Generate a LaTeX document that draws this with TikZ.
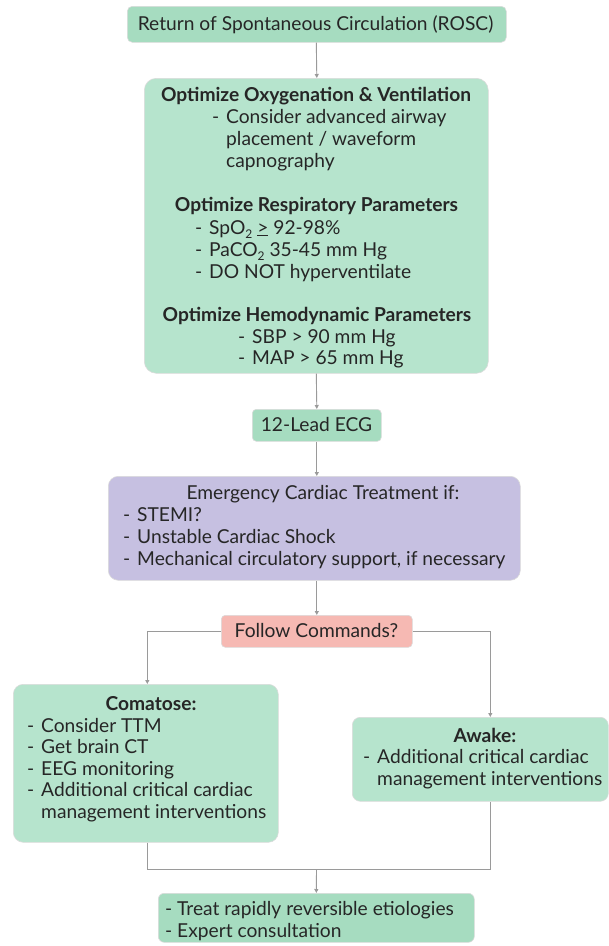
\documentclass[tikz,border=0pt]{standalone}
\usepackage{fontspec}
\setmainfont{Lato}
\usetikzlibrary{arrows.meta,calc}
\definecolor{mintA}{HTML}{A6DCC0}
\definecolor{mintB}{HTML}{B6E4CD}
\definecolor{lilac}{HTML}{C6C0E1}
\definecolor{salmon}{HTML}{F6B9B3}
\definecolor{ink}{HTML}{262626}
\definecolor{wire}{HTML}{9A9A9A}
\newcommand{\bul}{\makebox[14pt][l]{-}}
\begin{document}
\begin{tikzpicture}[x=1pt,y=-1pt,
  box/.style={draw=black!14, line width=0.6pt, inner sep=0pt, anchor=north west},
  txt/.style={inner sep=0pt, text=ink, font=\fontsize{19.2}{22}\selectfont},
  hd/.style={txt, font=\fontsize{19.2}{22}\selectfont\bfseries},
  wire/.style={draw=wire, line width=0.9pt},
  arr/.style={wire, -{Triangle[length=4pt,width=4pt]}}]
\useasboundingbox (0,0) rectangle (609,946);

% boxes
\node[box, fill=mintA, rounded corners=5pt, minimum width=379, minimum height=36] (rosc) at (127,6) {};
\node[box, fill=mintB, rounded corners=12pt, minimum width=344, minimum height=295] (opt) at (144,78) {};
\node[box, fill=mintA, rounded corners=4pt, minimum width=129, minimum height=32] (ecg) at (252,409) {};
\node[box, fill=lilac, rounded corners=10pt, minimum width=412, minimum height=104] (emerg) at (108,476) {};
\node[box, fill=salmon, rounded corners=4pt, minimum width=191, minimum height=32] (follow) at (221,615) {};
\node[box, fill=mintB, rounded corners=10pt, minimum width=265, minimum height=158] (coma) at (13,684) {};
\node[box, fill=mintB, rounded corners=8pt, minimum width=256, minimum height=84] (awake) at (352,717) {};
\node[box, fill=mintA, rounded corners=6pt, minimum width=316, minimum height=49] (treat) at (158,893) {};

% single-line labels
\node[txt, anchor=base] (roscT) at (315.5,30.5) {Return of Spontaneous Circulation (ROSC)};
\node[txt, anchor=base] (ecgT) at (316.5,431.5) {12-Lead ECG};
\node[txt, anchor=base] (followT) at (316.5,637.5) {Follow Commands?};

% optimisation box
\node[hd, anchor=base] (h1) at (316,101.5) {Optimize Oxygenation \& Ventilation};
\node[txt, anchor=base west] (o1) at (212,123) {\bul Consider advanced airway};
\node[txt, anchor=base west] (o2) at (226,145) {placement / waveform};
\node[txt, anchor=base west] (o3) at (226,167) {capnography};
\node[hd, anchor=base] (h2) at (316.5,211.5) {Optimize Respiratory Parameters};
\node[txt, anchor=base west] (r1) at (195,234) {\bul SpO\raisebox{-4pt}{\fontsize{12}{12}\selectfont 2} \underline{>} 92-98\%};
\node[txt, anchor=base west] (r2) at (195,256) {\bul PaCO\raisebox{-4pt}{\fontsize{12}{12}\selectfont 2} 35-45 mm Hg};
\node[txt, anchor=base west] (r3) at (195,278) {\bul DO NOT hyperventilate};
\node[hd, anchor=base] (h3) at (317,321.5) {Optimize Hemodynamic Parameters};
\node[txt, anchor=base west] (m1) at (238,343) {\bul SBP > 90 mm Hg};
\node[txt, anchor=base west] (m2) at (238,364) {\bul MAP > 65 mm Hg};

% emergency treatment box
\node[txt, anchor=base] (eT) at (323,499) {Emergency Cardiac Treatment if:};
\node[txt, anchor=base west] (e1) at (123,521) {\bul STEMI?};
\node[txt, anchor=base west] (e2) at (123,543) {\bul Unstable Cardiac Shock};
\node[txt, anchor=base west] (e3) at (123,565) {\bul Mechanical circulatory support, if necessary};

% comatose branch
\node[hd, anchor=base] (cT) at (151,710) {Comatose:};
\node[txt, anchor=base west] (c1) at (27,732) {\bul Consider TTM};
\node[txt, anchor=base west] (c2) at (27,753) {\bul Get brain CT};
\node[txt, anchor=base west] (c3) at (27,775) {\bul EEG monitoring};
\node[txt, anchor=base west] (c4) at (27,796) {\bul Additional critical cardiac};
\node[txt, anchor=base west] (c5) at (41,818) {management interventions};

% awake branch
\node[hd, anchor=base] (aT) at (485,742) {Awake:};
\node[txt, anchor=base west] (a1) at (363,763) {\bul Additional critical cardiac};
\node[txt, anchor=base west] (a2) at (377,785) {management interventions};

% final box
\node[txt, anchor=base west] (t1) at (165,915) {\makebox[12pt][l]{-}Treat rapidly reversible etiologies};
\node[txt, anchor=base west] (t2) at (165,937) {\makebox[12pt][l]{-}Expert consultation};

% connectors
\draw[arr] ([xshift=-0.5pt]rosc.south) -- ([xshift=0.5pt]opt.south |- opt.north);
\draw[arr] (opt.south) -- (ecg.north);
\draw[arr] (ecg.south) -- (ecg.south |- emerg.north);
\draw[arr] ([xshift=2.5pt]emerg.south) -- (follow.north);
\draw[arr] (follow.west) -| ([xshift=1.5pt]coma.north);
\draw[arr] (follow.east) -| ([xshift=10pt]awake.north);
\coordinate (merge) at (316.5,869);
\draw[wire] ([xshift=1.5pt]coma.south) |- (merge) -| ([xshift=10pt]awake.south);
\draw[arr] (merge) -- (treat.north);
\end{tikzpicture}
\end{document}
